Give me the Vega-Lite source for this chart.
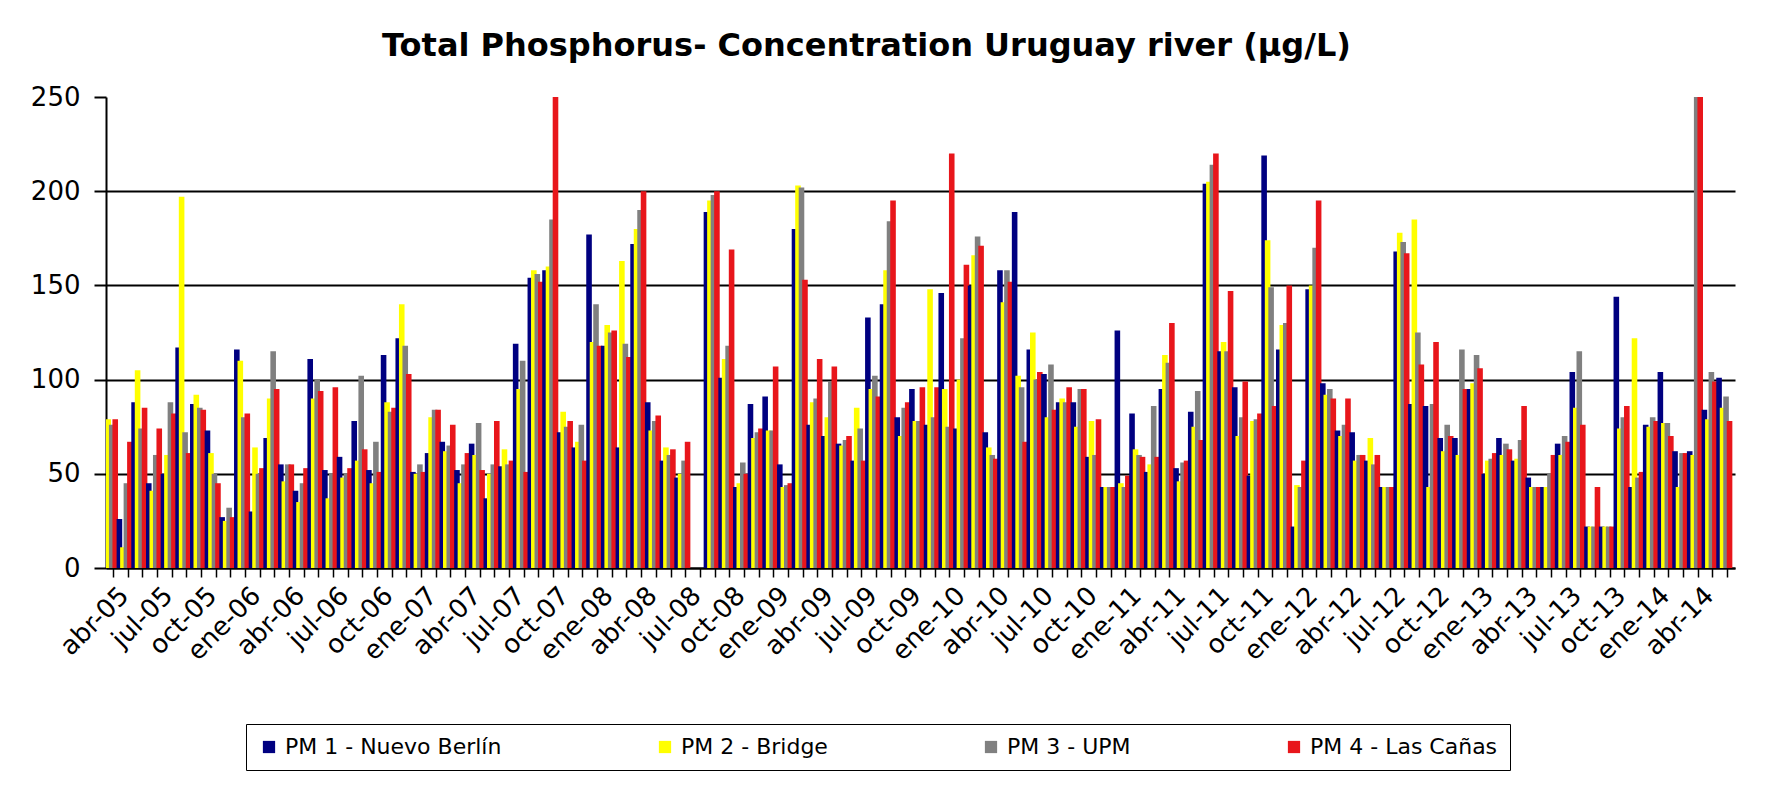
{
"$schema": "https://vega.github.io/schema/vega-lite/v6.json",
"width": 1629, "height": 471,
"autosize": "none",
"padding": {"left": 106, "top": 97, "right": 36, "bottom": 217},
"background": "white",
"title": {"text": "Total Phosphorus- Concentration Uruguay river (µg/L)", "font": "DejaVu Sans", "fontSize": 32, "fontWeight": "bold", "color": "black", "anchor": "middle", "dx": -54, "offset": 21},
"data": {"values": [
{"m":"abr-05","s":"PM 1 - Nuevo Berlín","v":74},{"m":"abr-05","s":"PM 2 - Bridge","v":79},{"m":"abr-05","s":"PM 3 - UPM","v":76},{"m":"abr-05","s":"PM 4 - Las Cañas","v":79},
{"m":"may-05","s":"PM 1 - Nuevo Berlín","v":26},{"m":"may-05","s":"PM 2 - Bridge","v":11},{"m":"may-05","s":"PM 3 - UPM","v":45},{"m":"may-05","s":"PM 4 - Las Cañas","v":67},
{"m":"jun-05","s":"PM 1 - Nuevo Berlín","v":88},{"m":"jun-05","s":"PM 2 - Bridge","v":105},{"m":"jun-05","s":"PM 3 - UPM","v":74},{"m":"jun-05","s":"PM 4 - Las Cañas","v":85},
{"m":"jul-05","s":"PM 1 - Nuevo Berlín","v":45},{"m":"jul-05","s":"PM 2 - Bridge","v":41},{"m":"jul-05","s":"PM 3 - UPM","v":60},{"m":"jul-05","s":"PM 4 - Las Cañas","v":74},
{"m":"ago-05","s":"PM 1 - Nuevo Berlín","v":50},{"m":"ago-05","s":"PM 2 - Bridge","v":60},{"m":"ago-05","s":"PM 3 - UPM","v":88},{"m":"ago-05","s":"PM 4 - Las Cañas","v":82},
{"m":"sep-05","s":"PM 1 - Nuevo Berlín","v":117},{"m":"sep-05","s":"PM 2 - Bridge","v":197},{"m":"sep-05","s":"PM 3 - UPM","v":72},{"m":"sep-05","s":"PM 4 - Las Cañas","v":61},
{"m":"oct-05","s":"PM 1 - Nuevo Berlín","v":87},{"m":"oct-05","s":"PM 2 - Bridge","v":92},{"m":"oct-05","s":"PM 3 - UPM","v":85},{"m":"oct-05","s":"PM 4 - Las Cañas","v":84},
{"m":"nov-05","s":"PM 1 - Nuevo Berlín","v":73},{"m":"nov-05","s":"PM 2 - Bridge","v":61},{"m":"nov-05","s":"PM 3 - UPM","v":50},{"m":"nov-05","s":"PM 4 - Las Cañas","v":45},
{"m":"dic-05","s":"PM 1 - Nuevo Berlín","v":27},{"m":"dic-05","s":"PM 2 - Bridge","v":25},{"m":"dic-05","s":"PM 3 - UPM","v":32},{"m":"dic-05","s":"PM 4 - Las Cañas","v":27},
{"m":"ene-06","s":"PM 1 - Nuevo Berlín","v":116},{"m":"ene-06","s":"PM 2 - Bridge","v":110},{"m":"ene-06","s":"PM 3 - UPM","v":80},{"m":"ene-06","s":"PM 4 - Las Cañas","v":82},
{"m":"feb-06","s":"PM 1 - Nuevo Berlín","v":30},{"m":"feb-06","s":"PM 2 - Bridge","v":64},{"m":"feb-06","s":"PM 3 - UPM","v":50},{"m":"feb-06","s":"PM 4 - Las Cañas","v":53},
{"m":"mar-06","s":"PM 1 - Nuevo Berlín","v":69},{"m":"mar-06","s":"PM 2 - Bridge","v":90},{"m":"mar-06","s":"PM 3 - UPM","v":115},{"m":"mar-06","s":"PM 4 - Las Cañas","v":95},
{"m":"abr-06","s":"PM 1 - Nuevo Berlín","v":55},{"m":"abr-06","s":"PM 2 - Bridge","v":46},{"m":"abr-06","s":"PM 3 - UPM","v":55},{"m":"abr-06","s":"PM 4 - Las Cañas","v":55},
{"m":"may-06","s":"PM 1 - Nuevo Berlín","v":41},{"m":"may-06","s":"PM 2 - Bridge","v":35},{"m":"may-06","s":"PM 3 - UPM","v":45},{"m":"may-06","s":"PM 4 - Las Cañas","v":53},
{"m":"jun-06","s":"PM 1 - Nuevo Berlín","v":111},{"m":"jun-06","s":"PM 2 - Bridge","v":90},{"m":"jun-06","s":"PM 3 - UPM","v":100},{"m":"jun-06","s":"PM 4 - Las Cañas","v":94},
{"m":"jul-06","s":"PM 1 - Nuevo Berlín","v":52},{"m":"jul-06","s":"PM 2 - Bridge","v":37},{"m":"jul-06","s":"PM 3 - UPM","v":50},{"m":"jul-06","s":"PM 4 - Las Cañas","v":96},
{"m":"ago-06","s":"PM 1 - Nuevo Berlín","v":59},{"m":"ago-06","s":"PM 2 - Bridge","v":48},{"m":"ago-06","s":"PM 3 - UPM","v":50},{"m":"ago-06","s":"PM 4 - Las Cañas","v":53},
{"m":"sep-06","s":"PM 1 - Nuevo Berlín","v":78},{"m":"sep-06","s":"PM 2 - Bridge","v":57},{"m":"sep-06","s":"PM 3 - UPM","v":102},{"m":"sep-06","s":"PM 4 - Las Cañas","v":63},
{"m":"oct-06","s":"PM 1 - Nuevo Berlín","v":52},{"m":"oct-06","s":"PM 2 - Bridge","v":45},{"m":"oct-06","s":"PM 3 - UPM","v":67},{"m":"oct-06","s":"PM 4 - Las Cañas","v":51},
{"m":"nov-06","s":"PM 1 - Nuevo Berlín","v":113},{"m":"nov-06","s":"PM 2 - Bridge","v":88},{"m":"nov-06","s":"PM 3 - UPM","v":83},{"m":"nov-06","s":"PM 4 - Las Cañas","v":85},
{"m":"dic-06","s":"PM 1 - Nuevo Berlín","v":122},{"m":"dic-06","s":"PM 2 - Bridge","v":140},{"m":"dic-06","s":"PM 3 - UPM","v":118},{"m":"dic-06","s":"PM 4 - Las Cañas","v":103},
{"m":"ene-07","s":"PM 1 - Nuevo Berlín","v":51},{"m":"ene-07","s":"PM 2 - Bridge","v":50},{"m":"ene-07","s":"PM 3 - UPM","v":55},{"m":"ene-07","s":"PM 4 - Las Cañas","v":51},
{"m":"feb-07","s":"PM 1 - Nuevo Berlín","v":61},{"m":"feb-07","s":"PM 2 - Bridge","v":80},{"m":"feb-07","s":"PM 3 - UPM","v":84},{"m":"feb-07","s":"PM 4 - Las Cañas","v":84},
{"m":"mar-07","s":"PM 1 - Nuevo Berlín","v":67},{"m":"mar-07","s":"PM 2 - Bridge","v":62},{"m":"mar-07","s":"PM 3 - UPM","v":65},{"m":"mar-07","s":"PM 4 - Las Cañas","v":76},
{"m":"abr-07","s":"PM 1 - Nuevo Berlín","v":52},{"m":"abr-07","s":"PM 2 - Bridge","v":45},{"m":"abr-07","s":"PM 3 - UPM","v":55},{"m":"abr-07","s":"PM 4 - Las Cañas","v":61},
{"m":"may-07","s":"PM 1 - Nuevo Berlín","v":66},{"m":"may-07","s":"PM 2 - Bridge","v":60},{"m":"may-07","s":"PM 3 - UPM","v":77},{"m":"may-07","s":"PM 4 - Las Cañas","v":52},
{"m":"jun-07","s":"PM 1 - Nuevo Berlín","v":37},{"m":"jun-07","s":"PM 2 - Bridge","v":50},{"m":"jun-07","s":"PM 3 - UPM","v":55},{"m":"jun-07","s":"PM 4 - Las Cañas","v":78},
{"m":"jul-07","s":"PM 1 - Nuevo Berlín","v":54},{"m":"jul-07","s":"PM 2 - Bridge","v":63},{"m":"jul-07","s":"PM 3 - UPM","v":55},{"m":"jul-07","s":"PM 4 - Las Cañas","v":57},
{"m":"ago-07","s":"PM 1 - Nuevo Berlín","v":119},{"m":"ago-07","s":"PM 2 - Bridge","v":95},{"m":"ago-07","s":"PM 3 - UPM","v":110},{"m":"ago-07","s":"PM 4 - Las Cañas","v":51},
{"m":"sep-07","s":"PM 1 - Nuevo Berlín","v":154},{"m":"sep-07","s":"PM 2 - Bridge","v":158},{"m":"sep-07","s":"PM 3 - UPM","v":156},{"m":"sep-07","s":"PM 4 - Las Cañas","v":152},
{"m":"oct-07","s":"PM 1 - Nuevo Berlín","v":158},{"m":"oct-07","s":"PM 2 - Bridge","v":160},{"m":"oct-07","s":"PM 3 - UPM","v":185},{"m":"oct-07","s":"PM 4 - Las Cañas","v":250},
{"m":"nov-07","s":"PM 1 - Nuevo Berlín","v":72},{"m":"nov-07","s":"PM 2 - Bridge","v":83},{"m":"nov-07","s":"PM 3 - UPM","v":75},{"m":"nov-07","s":"PM 4 - Las Cañas","v":78},
{"m":"dic-07","s":"PM 1 - Nuevo Berlín","v":64},{"m":"dic-07","s":"PM 2 - Bridge","v":67},{"m":"dic-07","s":"PM 3 - UPM","v":76},{"m":"dic-07","s":"PM 4 - Las Cañas","v":57},
{"m":"ene-08","s":"PM 1 - Nuevo Berlín","v":177},{"m":"ene-08","s":"PM 2 - Bridge","v":120},{"m":"ene-08","s":"PM 3 - UPM","v":140},{"m":"ene-08","s":"PM 4 - Las Cañas","v":118},
{"m":"feb-08","s":"PM 1 - Nuevo Berlín","v":118},{"m":"feb-08","s":"PM 2 - Bridge","v":129},{"m":"feb-08","s":"PM 3 - UPM","v":125},{"m":"feb-08","s":"PM 4 - Las Cañas","v":126},
{"m":"mar-08","s":"PM 1 - Nuevo Berlín","v":64},{"m":"mar-08","s":"PM 2 - Bridge","v":163},{"m":"mar-08","s":"PM 3 - UPM","v":119},{"m":"mar-08","s":"PM 4 - Las Cañas","v":112},
{"m":"abr-08","s":"PM 1 - Nuevo Berlín","v":172},{"m":"abr-08","s":"PM 2 - Bridge","v":180},{"m":"abr-08","s":"PM 3 - UPM","v":190},{"m":"abr-08","s":"PM 4 - Las Cañas","v":200},
{"m":"may-08","s":"PM 1 - Nuevo Berlín","v":88},{"m":"may-08","s":"PM 2 - Bridge","v":73},{"m":"may-08","s":"PM 3 - UPM","v":78},{"m":"may-08","s":"PM 4 - Las Cañas","v":81},
{"m":"jun-08","s":"PM 1 - Nuevo Berlín","v":57},{"m":"jun-08","s":"PM 2 - Bridge","v":64},{"m":"jun-08","s":"PM 3 - UPM","v":60},{"m":"jun-08","s":"PM 4 - Las Cañas","v":63},
{"m":"jul-08","s":"PM 1 - Nuevo Berlín","v":48},{"m":"jul-08","s":"PM 2 - Bridge","v":50},{"m":"jul-08","s":"PM 3 - UPM","v":57},{"m":"jul-08","s":"PM 4 - Las Cañas","v":67},
{"m":"sep-08","s":"PM 1 - Nuevo Berlín","v":189},{"m":"sep-08","s":"PM 2 - Bridge","v":195},{"m":"sep-08","s":"PM 3 - UPM","v":198},{"m":"sep-08","s":"PM 4 - Las Cañas","v":200},
{"m":"oct-08","s":"PM 1 - Nuevo Berlín","v":101},{"m":"oct-08","s":"PM 2 - Bridge","v":111},{"m":"oct-08","s":"PM 3 - UPM","v":118},{"m":"oct-08","s":"PM 4 - Las Cañas","v":169},
{"m":"nov-08","s":"PM 1 - Nuevo Berlín","v":43},{"m":"nov-08","s":"PM 2 - Bridge","v":45},{"m":"nov-08","s":"PM 3 - UPM","v":56},{"m":"nov-08","s":"PM 4 - Las Cañas","v":50},
{"m":"dic-08","s":"PM 1 - Nuevo Berlín","v":87},{"m":"dic-08","s":"PM 2 - Bridge","v":69},{"m":"dic-08","s":"PM 3 - UPM","v":72},{"m":"dic-08","s":"PM 4 - Las Cañas","v":74},
{"m":"ene-09","s":"PM 1 - Nuevo Berlín","v":91},{"m":"ene-09","s":"PM 2 - Bridge","v":73},{"m":"ene-09","s":"PM 3 - UPM","v":73},{"m":"ene-09","s":"PM 4 - Las Cañas","v":107},
{"m":"feb-09","s":"PM 1 - Nuevo Berlín","v":55},{"m":"feb-09","s":"PM 2 - Bridge","v":43},{"m":"feb-09","s":"PM 3 - UPM","v":44},{"m":"feb-09","s":"PM 4 - Las Cañas","v":45},
{"m":"mar-09","s":"PM 1 - Nuevo Berlín","v":180},{"m":"mar-09","s":"PM 2 - Bridge","v":203},{"m":"mar-09","s":"PM 3 - UPM","v":202},{"m":"mar-09","s":"PM 4 - Las Cañas","v":153},
{"m":"abr-09","s":"PM 1 - Nuevo Berlín","v":76},{"m":"abr-09","s":"PM 2 - Bridge","v":88},{"m":"abr-09","s":"PM 3 - UPM","v":90},{"m":"abr-09","s":"PM 4 - Las Cañas","v":111},
{"m":"may-09","s":"PM 1 - Nuevo Berlín","v":70},{"m":"may-09","s":"PM 2 - Bridge","v":80},{"m":"may-09","s":"PM 3 - UPM","v":99},{"m":"may-09","s":"PM 4 - Las Cañas","v":107},
{"m":"jun-09","s":"PM 1 - Nuevo Berlín","v":66},{"m":"jun-09","s":"PM 2 - Bridge","v":65},{"m":"jun-09","s":"PM 3 - UPM","v":68},{"m":"jun-09","s":"PM 4 - Las Cañas","v":70},
{"m":"jul-09","s":"PM 1 - Nuevo Berlín","v":57},{"m":"jul-09","s":"PM 2 - Bridge","v":85},{"m":"jul-09","s":"PM 3 - UPM","v":74},{"m":"jul-09","s":"PM 4 - Las Cañas","v":57},
{"m":"ago-09","s":"PM 1 - Nuevo Berlín","v":133},{"m":"ago-09","s":"PM 2 - Bridge","v":95},{"m":"ago-09","s":"PM 3 - UPM","v":102},{"m":"ago-09","s":"PM 4 - Las Cañas","v":91},
{"m":"sep-09","s":"PM 1 - Nuevo Berlín","v":140},{"m":"sep-09","s":"PM 2 - Bridge","v":158},{"m":"sep-09","s":"PM 3 - UPM","v":184},{"m":"sep-09","s":"PM 4 - Las Cañas","v":195},
{"m":"oct-09","s":"PM 1 - Nuevo Berlín","v":80},{"m":"oct-09","s":"PM 2 - Bridge","v":70},{"m":"oct-09","s":"PM 3 - UPM","v":85},{"m":"oct-09","s":"PM 4 - Las Cañas","v":88},
{"m":"nov-09","s":"PM 1 - Nuevo Berlín","v":95},{"m":"nov-09","s":"PM 2 - Bridge","v":78},{"m":"nov-09","s":"PM 3 - UPM","v":78},{"m":"nov-09","s":"PM 4 - Las Cañas","v":96},
{"m":"dic-09","s":"PM 1 - Nuevo Berlín","v":76},{"m":"dic-09","s":"PM 2 - Bridge","v":148},{"m":"dic-09","s":"PM 3 - UPM","v":80},{"m":"dic-09","s":"PM 4 - Las Cañas","v":96},
{"m":"ene-10","s":"PM 1 - Nuevo Berlín","v":146},{"m":"ene-10","s":"PM 2 - Bridge","v":95},{"m":"ene-10","s":"PM 3 - UPM","v":75},{"m":"ene-10","s":"PM 4 - Las Cañas","v":220},
{"m":"feb-10","s":"PM 1 - Nuevo Berlín","v":74},{"m":"feb-10","s":"PM 2 - Bridge","v":100},{"m":"feb-10","s":"PM 3 - UPM","v":122},{"m":"feb-10","s":"PM 4 - Las Cañas","v":161},
{"m":"mar-10","s":"PM 1 - Nuevo Berlín","v":150},{"m":"mar-10","s":"PM 2 - Bridge","v":166},{"m":"mar-10","s":"PM 3 - UPM","v":176},{"m":"mar-10","s":"PM 4 - Las Cañas","v":171},
{"m":"abr-10","s":"PM 1 - Nuevo Berlín","v":72},{"m":"abr-10","s":"PM 2 - Bridge","v":64},{"m":"abr-10","s":"PM 3 - UPM","v":60},{"m":"abr-10","s":"PM 4 - Las Cañas","v":58},
{"m":"may-10","s":"PM 1 - Nuevo Berlín","v":158},{"m":"may-10","s":"PM 2 - Bridge","v":141},{"m":"may-10","s":"PM 3 - UPM","v":158},{"m":"may-10","s":"PM 4 - Las Cañas","v":152},
{"m":"jun-10","s":"PM 1 - Nuevo Berlín","v":189},{"m":"jun-10","s":"PM 2 - Bridge","v":102},{"m":"jun-10","s":"PM 3 - UPM","v":96},{"m":"jun-10","s":"PM 4 - Las Cañas","v":67},
{"m":"jul-10","s":"PM 1 - Nuevo Berlín","v":116},{"m":"jul-10","s":"PM 2 - Bridge","v":125},{"m":"jul-10","s":"PM 3 - UPM","v":100},{"m":"jul-10","s":"PM 4 - Las Cañas","v":104},
{"m":"ago-10","s":"PM 1 - Nuevo Berlín","v":103},{"m":"ago-10","s":"PM 2 - Bridge","v":80},{"m":"ago-10","s":"PM 3 - UPM","v":108},{"m":"ago-10","s":"PM 4 - Las Cañas","v":84},
{"m":"sep-10","s":"PM 1 - Nuevo Berlín","v":88},{"m":"sep-10","s":"PM 2 - Bridge","v":90},{"m":"sep-10","s":"PM 3 - UPM","v":88},{"m":"sep-10","s":"PM 4 - Las Cañas","v":96},
{"m":"oct-10","s":"PM 1 - Nuevo Berlín","v":88},{"m":"oct-10","s":"PM 2 - Bridge","v":75},{"m":"oct-10","s":"PM 3 - UPM","v":95},{"m":"oct-10","s":"PM 4 - Las Cañas","v":95},
{"m":"nov-10","s":"PM 1 - Nuevo Berlín","v":59},{"m":"nov-10","s":"PM 2 - Bridge","v":78},{"m":"nov-10","s":"PM 3 - UPM","v":60},{"m":"nov-10","s":"PM 4 - Las Cañas","v":79},
{"m":"dic-10","s":"PM 1 - Nuevo Berlín","v":43},{"m":"dic-10","s":"PM 2 - Bridge","v":43},{"m":"dic-10","s":"PM 3 - UPM","v":43},{"m":"dic-10","s":"PM 4 - Las Cañas","v":43},
{"m":"ene-11","s":"PM 1 - Nuevo Berlín","v":126},{"m":"ene-11","s":"PM 2 - Bridge","v":45},{"m":"ene-11","s":"PM 3 - UPM","v":43},{"m":"ene-11","s":"PM 4 - Las Cañas","v":49},
{"m":"feb-11","s":"PM 1 - Nuevo Berlín","v":82},{"m":"feb-11","s":"PM 2 - Bridge","v":63},{"m":"feb-11","s":"PM 3 - UPM","v":60},{"m":"feb-11","s":"PM 4 - Las Cañas","v":59},
{"m":"mar-11","s":"PM 1 - Nuevo Berlín","v":51},{"m":"mar-11","s":"PM 2 - Bridge","v":55},{"m":"mar-11","s":"PM 3 - UPM","v":86},{"m":"mar-11","s":"PM 4 - Las Cañas","v":59},
{"m":"abr-11","s":"PM 1 - Nuevo Berlín","v":95},{"m":"abr-11","s":"PM 2 - Bridge","v":113},{"m":"abr-11","s":"PM 3 - UPM","v":109},{"m":"abr-11","s":"PM 4 - Las Cañas","v":130},
{"m":"may-11","s":"PM 1 - Nuevo Berlín","v":53},{"m":"may-11","s":"PM 2 - Bridge","v":46},{"m":"may-11","s":"PM 3 - UPM","v":56},{"m":"may-11","s":"PM 4 - Las Cañas","v":57},
{"m":"jun-11","s":"PM 1 - Nuevo Berlín","v":83},{"m":"jun-11","s":"PM 2 - Bridge","v":75},{"m":"jun-11","s":"PM 3 - UPM","v":94},{"m":"jun-11","s":"PM 4 - Las Cañas","v":68},
{"m":"jul-11","s":"PM 1 - Nuevo Berlín","v":204},{"m":"jul-11","s":"PM 2 - Bridge","v":205},{"m":"jul-11","s":"PM 3 - UPM","v":214},{"m":"jul-11","s":"PM 4 - Las Cañas","v":220},
{"m":"ago-11","s":"PM 1 - Nuevo Berlín","v":115},{"m":"ago-11","s":"PM 2 - Bridge","v":120},{"m":"ago-11","s":"PM 3 - UPM","v":115},{"m":"ago-11","s":"PM 4 - Las Cañas","v":147},
{"m":"sep-11","s":"PM 1 - Nuevo Berlín","v":96},{"m":"sep-11","s":"PM 2 - Bridge","v":70},{"m":"sep-11","s":"PM 3 - UPM","v":80},{"m":"sep-11","s":"PM 4 - Las Cañas","v":99},
{"m":"oct-11","s":"PM 1 - Nuevo Berlín","v":49},{"m":"oct-11","s":"PM 2 - Bridge","v":78},{"m":"oct-11","s":"PM 3 - UPM","v":79},{"m":"oct-11","s":"PM 4 - Las Cañas","v":82},
{"m":"nov-11","s":"PM 1 - Nuevo Berlín","v":219},{"m":"nov-11","s":"PM 2 - Bridge","v":174},{"m":"nov-11","s":"PM 3 - UPM","v":149},{"m":"nov-11","s":"PM 4 - Las Cañas","v":86},
{"m":"dic-11","s":"PM 1 - Nuevo Berlín","v":116},{"m":"dic-11","s":"PM 2 - Bridge","v":129},{"m":"dic-11","s":"PM 3 - UPM","v":130},{"m":"dic-11","s":"PM 4 - Las Cañas","v":150},
{"m":"ene-12","s":"PM 1 - Nuevo Berlín","v":22},{"m":"ene-12","s":"PM 2 - Bridge","v":44},{"m":"ene-12","s":"PM 3 - UPM","v":43},{"m":"ene-12","s":"PM 4 - Las Cañas","v":57},
{"m":"feb-12","s":"PM 1 - Nuevo Berlín","v":148},{"m":"feb-12","s":"PM 2 - Bridge","v":150},{"m":"feb-12","s":"PM 3 - UPM","v":170},{"m":"feb-12","s":"PM 4 - Las Cañas","v":195},
{"m":"mar-12","s":"PM 1 - Nuevo Berlín","v":98},{"m":"mar-12","s":"PM 2 - Bridge","v":92},{"m":"mar-12","s":"PM 3 - UPM","v":95},{"m":"mar-12","s":"PM 4 - Las Cañas","v":90},
{"m":"abr-12","s":"PM 1 - Nuevo Berlín","v":73},{"m":"abr-12","s":"PM 2 - Bridge","v":70},{"m":"abr-12","s":"PM 3 - UPM","v":76},{"m":"abr-12","s":"PM 4 - Las Cañas","v":90},
{"m":"may-12","s":"PM 1 - Nuevo Berlín","v":72},{"m":"may-12","s":"PM 2 - Bridge","v":57},{"m":"may-12","s":"PM 3 - UPM","v":60},{"m":"may-12","s":"PM 4 - Las Cañas","v":60},
{"m":"jun-12","s":"PM 1 - Nuevo Berlín","v":57},{"m":"jun-12","s":"PM 2 - Bridge","v":69},{"m":"jun-12","s":"PM 3 - UPM","v":55},{"m":"jun-12","s":"PM 4 - Las Cañas","v":60},
{"m":"jul-12","s":"PM 1 - Nuevo Berlín","v":43},{"m":"jul-12","s":"PM 2 - Bridge","v":43},{"m":"jul-12","s":"PM 3 - UPM","v":43},{"m":"jul-12","s":"PM 4 - Las Cañas","v":43},
{"m":"ago-12","s":"PM 1 - Nuevo Berlín","v":168},{"m":"ago-12","s":"PM 2 - Bridge","v":178},{"m":"ago-12","s":"PM 3 - UPM","v":173},{"m":"ago-12","s":"PM 4 - Las Cañas","v":167},
{"m":"sep-12","s":"PM 1 - Nuevo Berlín","v":87},{"m":"sep-12","s":"PM 2 - Bridge","v":185},{"m":"sep-12","s":"PM 3 - UPM","v":125},{"m":"sep-12","s":"PM 4 - Las Cañas","v":108},
{"m":"oct-12","s":"PM 1 - Nuevo Berlín","v":86},{"m":"oct-12","s":"PM 2 - Bridge","v":43},{"m":"oct-12","s":"PM 3 - UPM","v":87},{"m":"oct-12","s":"PM 4 - Las Cañas","v":120},
{"m":"nov-12","s":"PM 1 - Nuevo Berlín","v":69},{"m":"nov-12","s":"PM 2 - Bridge","v":62},{"m":"nov-12","s":"PM 3 - UPM","v":76},{"m":"nov-12","s":"PM 4 - Las Cañas","v":70},
{"m":"dic-12","s":"PM 1 - Nuevo Berlín","v":69},{"m":"dic-12","s":"PM 2 - Bridge","v":60},{"m":"dic-12","s":"PM 3 - UPM","v":116},{"m":"dic-12","s":"PM 4 - Las Cañas","v":95},
{"m":"ene-13","s":"PM 1 - Nuevo Berlín","v":95},{"m":"ene-13","s":"PM 2 - Bridge","v":98},{"m":"ene-13","s":"PM 3 - UPM","v":113},{"m":"ene-13","s":"PM 4 - Las Cañas","v":106},
{"m":"feb-13","s":"PM 1 - Nuevo Berlín","v":50},{"m":"feb-13","s":"PM 2 - Bridge","v":57},{"m":"feb-13","s":"PM 3 - UPM","v":58},{"m":"feb-13","s":"PM 4 - Las Cañas","v":61},
{"m":"mar-13","s":"PM 1 - Nuevo Berlín","v":69},{"m":"mar-13","s":"PM 2 - Bridge","v":60},{"m":"mar-13","s":"PM 3 - UPM","v":66},{"m":"mar-13","s":"PM 4 - Las Cañas","v":63},
{"m":"abr-13","s":"PM 1 - Nuevo Berlín","v":57},{"m":"abr-13","s":"PM 2 - Bridge","v":58},{"m":"abr-13","s":"PM 3 - UPM","v":68},{"m":"abr-13","s":"PM 4 - Las Cañas","v":86},
{"m":"may-13","s":"PM 1 - Nuevo Berlín","v":48},{"m":"may-13","s":"PM 2 - Bridge","v":43},{"m":"may-13","s":"PM 3 - UPM","v":43},{"m":"may-13","s":"PM 4 - Las Cañas","v":43},
{"m":"jun-13","s":"PM 1 - Nuevo Berlín","v":43},{"m":"jun-13","s":"PM 2 - Bridge","v":43},{"m":"jun-13","s":"PM 3 - UPM","v":50},{"m":"jun-13","s":"PM 4 - Las Cañas","v":60},
{"m":"jul-13","s":"PM 1 - Nuevo Berlín","v":66},{"m":"jul-13","s":"PM 2 - Bridge","v":60},{"m":"jul-13","s":"PM 3 - UPM","v":70},{"m":"jul-13","s":"PM 4 - Las Cañas","v":67},
{"m":"ago-13","s":"PM 1 - Nuevo Berlín","v":104},{"m":"ago-13","s":"PM 2 - Bridge","v":85},{"m":"ago-13","s":"PM 3 - UPM","v":115},{"m":"ago-13","s":"PM 4 - Las Cañas","v":76},
{"m":"sep-13","s":"PM 1 - Nuevo Berlín","v":22},{"m":"sep-13","s":"PM 2 - Bridge","v":22},{"m":"sep-13","s":"PM 3 - UPM","v":22},{"m":"sep-13","s":"PM 4 - Las Cañas","v":43},
{"m":"oct-13","s":"PM 1 - Nuevo Berlín","v":22},{"m":"oct-13","s":"PM 2 - Bridge","v":22},{"m":"oct-13","s":"PM 3 - UPM","v":22},{"m":"oct-13","s":"PM 4 - Las Cañas","v":22},
{"m":"nov-13","s":"PM 1 - Nuevo Berlín","v":144},{"m":"nov-13","s":"PM 2 - Bridge","v":74},{"m":"nov-13","s":"PM 3 - UPM","v":80},{"m":"nov-13","s":"PM 4 - Las Cañas","v":86},
{"m":"dic-13","s":"PM 1 - Nuevo Berlín","v":43},{"m":"dic-13","s":"PM 2 - Bridge","v":122},{"m":"dic-13","s":"PM 3 - UPM","v":48},{"m":"dic-13","s":"PM 4 - Las Cañas","v":51},
{"m":"ene-14","s":"PM 1 - Nuevo Berlín","v":76},{"m":"ene-14","s":"PM 2 - Bridge","v":75},{"m":"ene-14","s":"PM 3 - UPM","v":80},{"m":"ene-14","s":"PM 4 - Las Cañas","v":78},
{"m":"feb-14","s":"PM 1 - Nuevo Berlín","v":104},{"m":"feb-14","s":"PM 2 - Bridge","v":77},{"m":"feb-14","s":"PM 3 - UPM","v":77},{"m":"feb-14","s":"PM 4 - Las Cañas","v":70},
{"m":"mar-14","s":"PM 1 - Nuevo Berlín","v":62},{"m":"mar-14","s":"PM 2 - Bridge","v":43},{"m":"mar-14","s":"PM 3 - UPM","v":61},{"m":"mar-14","s":"PM 4 - Las Cañas","v":61},
{"m":"abr-14","s":"PM 1 - Nuevo Berlín","v":62},{"m":"abr-14","s":"PM 2 - Bridge","v":60},{"m":"abr-14","s":"PM 3 - UPM","v":250},{"m":"abr-14","s":"PM 4 - Las Cañas","v":250},
{"m":"may-14","s":"PM 1 - Nuevo Berlín","v":84},{"m":"may-14","s":"PM 2 - Bridge","v":79},{"m":"may-14","s":"PM 3 - UPM","v":104},{"m":"may-14","s":"PM 4 - Las Cañas","v":99},
{"m":"jun-14","s":"PM 1 - Nuevo Berlín","v":101},{"m":"jun-14","s":"PM 2 - Bridge","v":85},{"m":"jun-14","s":"PM 3 - UPM","v":91},{"m":"jun-14","s":"PM 4 - Las Cañas","v":78}
]},
"mark": {"type": "bar", "width": {"band": 1.6}, "clip": true},
"encoding": {
"x": {"field": "m", "type": "nominal", "sort": null,
 "scale": {"domain": ["abr-05","may-05","jun-05","jul-05","ago-05","sep-05","oct-05","nov-05","dic-05","ene-06","feb-06","mar-06","abr-06","may-06","jun-06","jul-06","ago-06","sep-06","oct-06","nov-06","dic-06","ene-07","feb-07","mar-07","abr-07","may-07","jun-07","jul-07","ago-07","sep-07","oct-07","nov-07","dic-07","ene-08","feb-08","mar-08","abr-08","may-08","jun-08","jul-08","ago-08","sep-08","oct-08","nov-08","dic-08","ene-09","feb-09","mar-09","abr-09","may-09","jun-09","jul-09","ago-09","sep-09","oct-09","nov-09","dic-09","ene-10","feb-10","mar-10","abr-10","may-10","jun-10","jul-10","ago-10","sep-10","oct-10","nov-10","dic-10","ene-11","feb-11","mar-11","abr-11","may-11","jun-11","jul-11","ago-11","sep-11","oct-11","nov-11","dic-11","ene-12","feb-12","mar-12","abr-12","may-12","jun-12","jul-12","ago-12","sep-12","oct-12","nov-12","dic-12","ene-13","feb-13","mar-13","abr-13","may-13","jun-13","jul-13","ago-13","sep-13","oct-13","nov-13","dic-13","ene-14","feb-14","mar-14","abr-14","may-14","jun-14"], "paddingInner": 0, "paddingOuter": 0},
 "axis": {"title": null, "labelAngle": -45, "labelExpr": "indexof(['abr','jul','oct','ene'], slice(datum.label,0,3)) >= 0 ? datum.label : ''", "labelFont": "DejaVu Sans", "labelFontSize": 26, "labelColor": "black", "labelOverlap": false, "labelPadding": 5, "labelOffset": 2, "domainColor": "black", "domainWidth": 2, "tickColor": "black", "tickWidth": 1.5, "tickSize": 9, "grid": false}},
"xOffset": {"field": "s", "type": "nominal", "sort": ["PM 1 - Nuevo Berlín", "PM 2 - Bridge", "PM 3 - UPM", "PM 4 - Las Cañas"], "scale": {"paddingInner": 0, "paddingOuter": 0.1}},
"y": {"field": "v", "type": "quantitative", "scale": {"domain": [0, 250], "nice": false},
 "axis": {"title": null, "values": [0, 50, 100, 150, 200, 250], "labelFont": "DejaVu Sans", "labelFontSize": 26, "labelColor": "black", "labelPadding": 14, "domainColor": "black", "domainWidth": 2, "tickColor": "black", "tickWidth": 2, "tickSize": 12, "grid": true, "gridColor": "black", "gridWidth": 2, "gridOpacity": {"condition": {"test": "datum.value === 250", "value": 0}, "value": 1}}},
"color": {"field": "s", "type": "nominal",
 "scale": {"domain": ["PM 1 - Nuevo Berlín", "PM 2 - Bridge", "PM 3 - UPM", "PM 4 - Las Cañas"], "range": ["#000080", "#FFFF00", "#808080", "#E8161B"]},
 "legend": {"title": null, "orient": "none", "legendX": 140, "legendY": 627, "direction": "horizontal", "columns": 4, "symbolType": "square", "symbolSize": 150, "symbolStrokeWidth": 0, "labelFont": "DejaVu Sans", "labelFontSize": 22, "labelLimit": 0, "labelColor": "black", "labelOffset": 5, "columnPadding": 152, "padding": 12, "strokeColor": "black", "fillColor": "white"}}
},
"config": {"view": {"stroke": null}}
}
